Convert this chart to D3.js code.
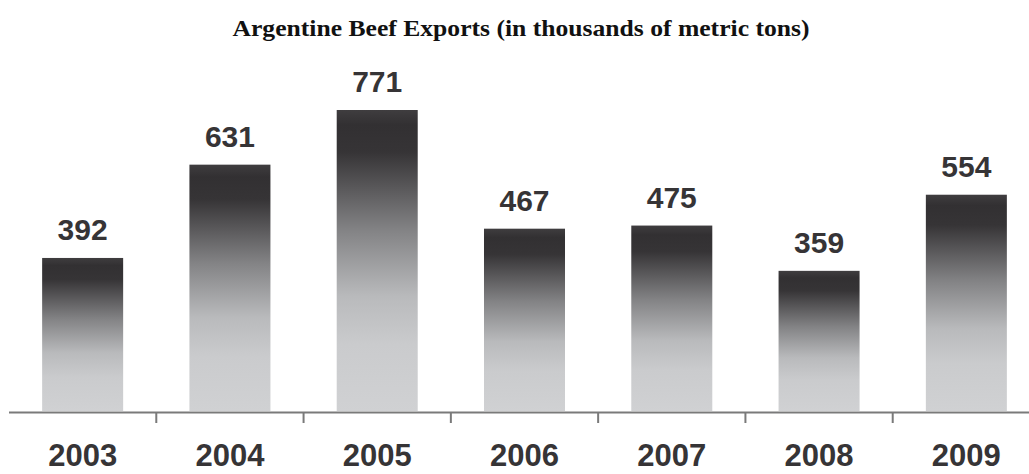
<!DOCTYPE html>
<html>
<head>
<meta charset="utf-8">
<script src="https://cdn.jsdelivr.net/npm/d3@7"></script>
<style>
  html, body { margin: 0; padding: 0; background: #fff; }
  svg { display: block; }
</style>
</head>
<body>
<svg id="chart" width="1029" height="474"></svg>
<script>
// Argentine beef exports, thousands of metric tons
const years = ["2003", "2004", "2005", "2006", "2007", "2008", "2009"];
const exportsKt = [392, 631, 771, 467, 475, 359, 554];
const titleText = "Argentine Beef Exports (in thousands of metric tons)";

const width = 1029, height = 474;
const svg = d3.select("#chart");

const x = d3.scaleBand()
  .domain(years)
  .range([9, 1040])
  .paddingInner(0.45)
  .paddingOuter(0.225);

const y = d3.scaleLinear()
  .domain([0, 771])
  .range([411, 110]);

// Vertical shading: dark cap fading to light grey near the base
const defs = svg.append("defs");
const grad = defs.append("linearGradient")
  .attr("id", "barShade")
  .attr("x1", 0).attr("y1", 0).attr("x2", 0).attr("y2", 1);
[
  [0.00, "#3f3d3f"],
  [0.05, "#323032"],
  [0.14, "#363436"],
  [0.40, "#838385"],
  [0.62, "#b9babc"],
  [0.78, "#cacbcd"],
  [1.00, "#d0d1d3"]
].forEach(([o, c]) => grad.append("stop").attr("offset", o).attr("stop-color", c));

// Title (wide bold serif)
svg.append("text")
  .attr("x", 521)
  .attr("y", 36)
  .attr("text-anchor", "middle")
  .attr("font-family", "'Liberation Serif', 'Times New Roman', serif")
  .attr("font-weight", "bold")
  .attr("font-size", 24)
  .attr("textLength", 577)
  .attr("lengthAdjust", "spacingAndGlyphs")
  .attr("fill", "#111")
  .text(titleText);

const data = years.map((yr, i) => ({ year: yr, value: exportsKt[i] }));

// Bars
svg.append("g")
  .selectAll("rect")
  .data(data)
  .join("rect")
  .attr("x", d => x(d.year))
  .attr("y", d => y(d.value))
  .attr("width", x.bandwidth())
  .attr("height", d => y(0) - y(d.value))
  .attr("fill", "url(#barShade)");

// Value labels
svg.append("g")
  .selectAll("text")
  .data(data)
  .join("text")
  .attr("x", d => x(d.year) + x.bandwidth() / 2)
  .attr("y", d => y(d.value) - 18)
  .attr("text-anchor", "middle")
  .attr("font-family", "'Liberation Sans', Arial, sans-serif")
  .attr("font-weight", "bold")
  .attr("font-size", 30)
  .attr("fill", "#363436")
  .text(d => d3.format("d")(d.value));

// Baseline axis with separator ticks between categories
const axisY = 412.5;
svg.append("line")
  .attr("x1", 9).attr("x2", width)
  .attr("y1", axisY).attr("y2", axisY)
  .attr("stroke", "#7a7a7a")
  .attr("stroke-width", 2);

const step = x.step();
const sepX = d3.range(1, years.length).map(i => x.range()[0] + i * step);
svg.append("g")
  .selectAll("line")
  .data(sepX)
  .join("line")
  .attr("x1", d => d).attr("x2", d => d)
  .attr("y1", axisY).attr("y2", 423)
  .attr("stroke", "#7a7a7a")
  .attr("stroke-width", 2);

// Year labels
svg.append("g")
  .selectAll("text")
  .data(years)
  .join("text")
  .attr("x", d => x(d) + x.bandwidth() / 2)
  .attr("y", 466)
  .attr("text-anchor", "middle")
  .attr("font-family", "'Liberation Sans', Arial, sans-serif")
  .attr("font-weight", "bold")
  .attr("font-size", 31)
  .attr("fill", "#363436")
  .text(d => d);
</script>
</body>
</html>
